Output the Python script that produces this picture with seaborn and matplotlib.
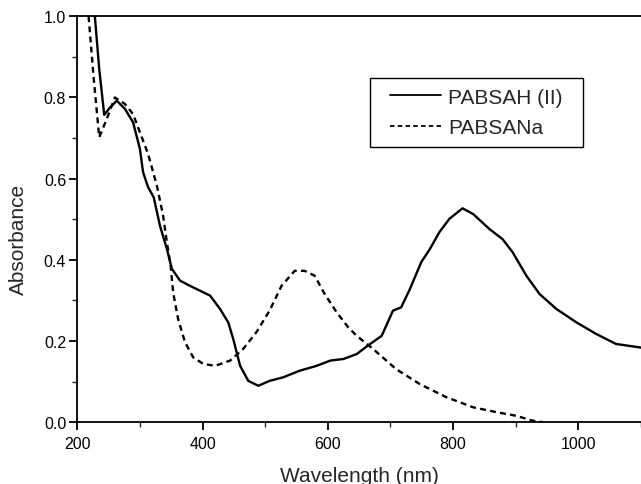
import numpy as np
import pandas as pd
import seaborn as sns
import matplotlib.pyplot as plt
import matplotlib.patches as patches
from matplotlib.ticker import MultipleLocator

# PABSAH (II) absorbance spectrum
wl_pabsah = [228, 235, 243, 252, 263, 276, 289, 300, 305, 313, 322, 332, 343, 351,
             364, 380, 396, 412, 428, 441, 449, 460, 473, 489, 507, 529, 555, 582,
             604, 625, 646, 664, 686, 704, 717, 731, 749, 763, 778, 794, 815, 832,
             858, 879, 895, 917, 938, 965, 997, 1028, 1060, 1100]
abs_pabsah = [1.0, 0.87, 0.757, 0.775, 0.792, 0.772, 0.739, 0.673, 0.616, 0.579, 0.554,
              0.484, 0.427, 0.378, 0.349, 0.336, 0.324, 0.312, 0.279, 0.246, 0.205,
              0.139, 0.102, 0.090, 0.102, 0.111, 0.127, 0.139, 0.152, 0.156, 0.168,
              0.189, 0.213, 0.275, 0.283, 0.328, 0.394, 0.427, 0.468, 0.501, 0.527,
              0.513, 0.476, 0.451, 0.419, 0.361, 0.316, 0.279, 0.246, 0.218, 0.193,
              0.184]

# PABSANa absorbance spectrum
wl_pabsana = [218, 226, 235, 247, 260, 276, 289, 300, 313, 327, 337, 343, 349, 353,
              361, 372, 385, 401, 420, 444, 465, 486, 507, 526, 547, 563, 579, 595,
              614, 632, 646, 672, 709, 747, 789, 832, 869, 901, 927, 945]
abs_pabsana = [1.0, 0.85, 0.702, 0.747, 0.800, 0.784, 0.759, 0.714, 0.661, 0.583, 0.509,
               0.443, 0.386, 0.320, 0.254, 0.197, 0.160, 0.144, 0.139, 0.152, 0.181,
               0.222, 0.275, 0.336, 0.373, 0.373, 0.361, 0.316, 0.271, 0.235, 0.213,
               0.181, 0.131, 0.094, 0.062, 0.037, 0.025, 0.016, 0.004, 0.0]

labels = ["PABSAH (II)", "PABSANa"]

df = pd.concat([
    pd.DataFrame({"wavelength": wl_pabsah, "absorbance": abs_pabsah, "sample": labels[0]}),
    pd.DataFrame({"wavelength": wl_pabsana, "absorbance": abs_pabsana, "sample": labels[1]}),
])

sns.set_style("ticks")
plt.rcParams["font.family"] = ["Liberation Sans", "DejaVu Sans"]

fig = plt.figure(figsize=(6.41, 4.85), dpi=100)
ax = fig.add_axes([0.1206, 0.1272, 0.8794, 0.8372])

sns.lineplot(data=df, x="wavelength", y="absorbance", style="sample",
             style_order=labels, dashes={labels[0]: "", labels[1]: (2.5, 1.8)},
             color="black", linewidth=1.7, ax=ax)

ax.set_xlim(200, 1100)
ax.set_ylim(0, 1.0)
ax.xaxis.set_major_locator(MultipleLocator(200))
ax.xaxis.set_minor_locator(MultipleLocator(100))
ax.yaxis.set_major_locator(MultipleLocator(0.2))
ax.yaxis.set_minor_locator(MultipleLocator(0.1))
ax.yaxis.set_major_formatter(plt.FuncFormatter(lambda v, p: f"{v:.1f}"))

ax.tick_params(which="major", direction="out", length=6, width=1.3,
               labelsize=11.5, colors="black", pad=2)
ax.tick_params(axis="x", which="major", pad=4)
ax.tick_params(which="minor", direction="out", length=3.5, width=1.0)

for side in ["left", "bottom", "top"]:
    ax.spines[side].set_visible(True)
    ax.spines[side].set_linewidth(1.3)
    ax.spines[side].set_color("black")
ax.spines["right"].set_visible(False)

ax.set_xlabel("Wavelength (nm)", fontsize=15)
ax.set_ylabel("Absorbance", fontsize=15)
ax.xaxis.set_label_coords(0.5, -0.108)
ax.yaxis.set_label_coords(-0.087, 0.454)

handles, _ = ax.get_legend_handles_labels()
leg = ax.legend(handles=handles[-2:], labels=labels, loc="upper left",
                bbox_to_anchor=(0.555, 0.824), borderaxespad=0, fontsize=15,
                frameon=False, handlelength=2.45, handletextpad=0.35,
                labelspacing=0.55, borderpad=0.0)
for h in leg.legend_handles:
    h.set_linewidth(1.3)

# legend frame: wider side padding than the top/bottom, like the original
fig.canvas.draw()
bb = leg.get_window_extent().transformed(fig.transFigure.inverted())
padx, pady = 20 / 641, 10 / 485
frame = patches.Rectangle((bb.x0 - padx, bb.y0 - pady), bb.width + 2 * padx,
                          bb.height + 2 * pady, transform=fig.transFigure,
                          fill=False, edgecolor="black", linewidth=1.0, zorder=5)
fig.add_artist(frame)

fig.savefig("out.png", dpi=100)
